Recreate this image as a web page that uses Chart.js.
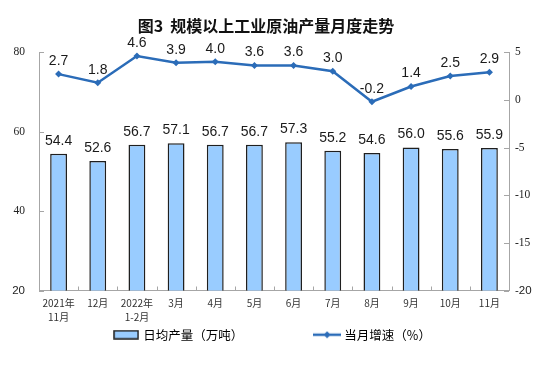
<!DOCTYPE html>
<html>
<head>
<meta charset="utf-8">
<script src="https://cdn.jsdelivr.net/npm/chart.js@4/dist/chart.umd.min.js"></script>
<style>
  html, body { margin: 0; background: #fff; }
</style>
</head>
<body>
<canvas id="chart" width="550" height="366"></canvas>
<script>
// data
const months = [['2021年', '11月'], '12月', ['2022年', '1-2月'], '3月', '4月', '5月', '6月', '7月', '8月', '9月', '10月', '11月'];
const dailyOutput = [54.4, 52.6, 56.7, 57.1, 56.7, 56.7, 57.3, 55.2, 54.6, 56.0, 55.6, 55.9]; // 万吨
const monthGrowth = [2.7, 1.8, 4.6, 3.9, 4.0, 3.6, 3.6, 3.0, -0.2, 1.4, 2.5, 2.9]; // %
const leftRange = [20, 80, 20];     // min, max, step
const rightRange = [-20, 5, 5];

const BAR_FILL = '#99ccff';
const BAR_EDGE = '#1f1f1f';
const LINE_COLOR = '#2b6cb8';
const AXIS_COLOR = '#a6a6a6';
const CJK = '"Noto Sans CJK SC", sans-serif';

// legend icons, drawn once on small canvases
function barIcon() {
    const c = document.createElement('canvas');
    c.width = 26; c.height = 10;
    const g = c.getContext('2d');
    g.fillStyle = BAR_FILL;
    g.fillRect(1, 1, 24, 8);
    g.strokeStyle = BAR_EDGE;
    g.lineWidth = 1.5;
    g.strokeRect(1, 1, 24, 8);
    return c;
}
function lineIcon() {
    const c = document.createElement('canvas');
    c.width = 28; c.height = 8;
    const g = c.getContext('2d');
    g.strokeStyle = LINE_COLOR;
    g.lineWidth = 2.5;
    g.beginPath(); g.moveTo(0, 4); g.lineTo(28, 4); g.stroke();
    g.fillStyle = LINE_COLOR;
    g.beginPath(); g.moveTo(14, 0.5); g.lineTo(17.5, 4); g.lineTo(14, 7.5); g.lineTo(10.5, 4); g.closePath(); g.fill();
    return c;
}

// short tick marks pointing into the plot
const innerTicks = {
    id: 'innerTicks',
    afterDraw(chart) {
        const { ctx, chartArea: a, scales } = chart;
        ctx.save();
        ctx.strokeStyle = AXIS_COLOR;
        ctx.lineWidth = 1;
        ctx.beginPath();
        scales.y.ticks.forEach(t => {
            const py = Math.round(scales.y.getPixelForValue(t.value)) + 0.5;
            ctx.moveTo(a.left, py); ctx.lineTo(a.left + 5, py);
        });
        scales.y1.ticks.forEach(t => {
            const py = Math.round(scales.y1.getPixelForValue(t.value)) + 0.5;
            ctx.moveTo(a.right - 5, py); ctx.lineTo(a.right, py);
        });
        for (let i = 1; i < scales.x.ticks.length; i++) {
            const px = Math.round((scales.x.getPixelForTick(i - 1) + scales.x.getPixelForTick(i)) / 2) + 0.5;
            ctx.moveTo(px, a.bottom); ctx.lineTo(px, a.bottom - 4);
        }
        ctx.stroke();
        ctx.restore();
    }
};

// numbers above bars and points
const valueLabels = {
    id: 'valueLabels',
    afterDatasetsDraw(chart) {
        const { ctx } = chart;
        ctx.save();
        ctx.font = '14px "Liberation Sans", Arial, sans-serif';
        ctx.fillStyle = '#1a1a1a';
        ctx.textAlign = 'center';
        ctx.textBaseline = 'bottom';
        chart.data.datasets.forEach((ds, i) => {
            const meta = chart.getDatasetMeta(i);
            meta.data.forEach((el, j) => {
                ctx.fillText(ds.data[j].toFixed(1), el.x, el.y - 6);
            });
        });
        ctx.restore();
    }
};

// the legend in the reference sits a little right of the title's centre
const nudgeLegend = {
    id: 'nudgeLegend',
    afterLayout(chart) { chart.legend.left += 14; }
};

const tickFont = ctx => ({
    family: ctx.index === 0 ? '"Liberation Sans", Arial' : '"Liberation Serif", serif',
    size: 11.5
});

new Chart(document.getElementById('chart'), {
    type: 'bar',
    data: {
        labels: months,
        datasets: [
            {
                type: 'line',
                label: '当月增速（%）',
                data: monthGrowth,
                yAxisID: 'y1',
                borderColor: LINE_COLOR,
                backgroundColor: LINE_COLOR,
                borderWidth: 2.5,
                tension: 0,
                pointStyle: 'rectRot',
                pointRadius: 3.5,
                pointBackgroundColor: LINE_COLOR,
                pointBorderWidth: 0
            },
            {
                label: '日均产量（万吨）',
                data: dailyOutput,
                yAxisID: 'y',
                backgroundColor: BAR_FILL,
                borderColor: BAR_EDGE,
                borderWidth: 1.5,
                categoryPercentage: 1,
                barPercentage: 0.43
            }
        ]
    },
    options: {
        responsive: false,
        animation: false,
        layout: { padding: { left: 0, right: 18, top: 0, bottom: 15 } },
        plugins: {
            title: {
                display: true,
                text: '图3  规模以上工业原油产量月度走势',
                color: '#111',
                font: { family: CJK, size: 16, weight: 'bold' },
                padding: { top: 16, bottom: 17 }
            },
            legend: {
                position: 'bottom',
                labels: {
                    usePointStyle: true,
                    pointStyleWidth: 22,
                    boxHeight: 12,
                    padding: 4,
                    color: '#222',
                    font: { family: CJK, size: 12.5 },
                    generateLabels: chart => [
                        // trailing spaces keep the wide gap between the two entries
                        { text: chart.data.datasets[1].label + '\u3000\u3000\u3000\u3000\u3000\u3000', pointStyle: barIcon(), datasetIndex: 1, lineWidth: 0 },
                        { text: chart.data.datasets[0].label, pointStyle: lineIcon(), datasetIndex: 0, lineWidth: 0 }
                    ]
                }
            },
            tooltip: { enabled: false }
        },
        scales: {
            x: {
                grid: { display: false, drawTicks: false },
                border: { display: true, color: AXIS_COLOR, width: 1 },
                ticks: {
                    color: '#333',
                    font: { family: CJK, size: 10, lineHeight: 1.4 },
                    padding: 6,
                    maxRotation: 0,
                    autoSkip: false
                },
                afterFit: s => { s.height = 34; }
            },
            y: {
                position: 'left',
                min: leftRange[0], max: leftRange[1],
                grid: { display: false, drawTicks: false },
                border: { display: true, color: AXIS_COLOR, width: 1 },
                ticks: { stepSize: leftRange[2], color: '#222', font: tickFont, padding: 14 },
                afterFit: s => { s.width = 39; }
            },
            y1: {
                position: 'right',
                min: rightRange[0], max: rightRange[1],
                grid: { display: false, drawTicks: false },
                border: { display: true, color: AXIS_COLOR, width: 1 },
                ticks: { stepSize: rightRange[2], color: '#222', font: tickFont, padding: 6 },
                afterFit: s => { s.width = 23; }
            }
        }
    },
    plugins: [innerTicks, valueLabels, nudgeLegend]
});
</script>
</body>
</html>
